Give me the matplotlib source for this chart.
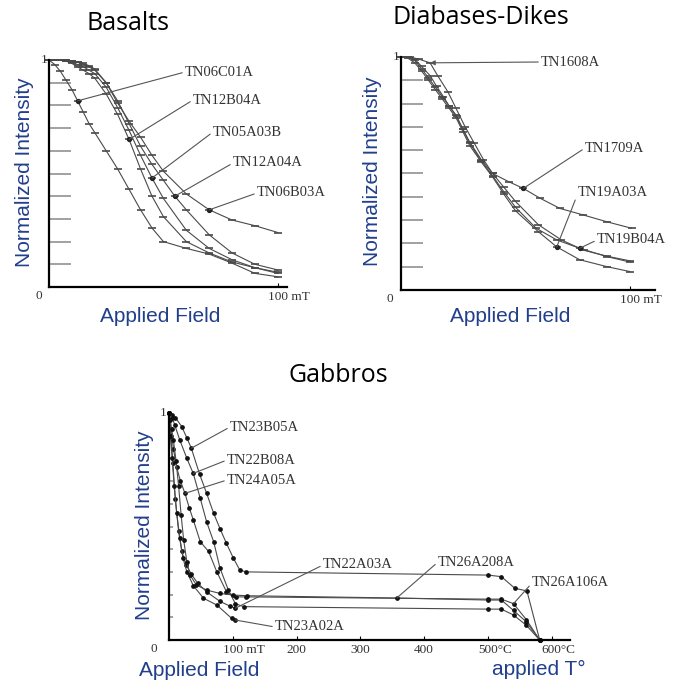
import matplotlib
matplotlib.use("Agg")
import matplotlib.pyplot as plt

W, H = 673, 687

# ---- Basalts (AF demagnetisation, mT) ----
bas_x = {
    "TN06C01A": [0, 2.5, 5, 7.5, 10, 12.5, 15, 17.5, 20, 25, 30, 35, 40, 45, 50, 60, 70, 80, 90, 100],
    "TN12B04A": [0, 2.5, 5, 7.5, 10, 12.5, 15, 17.5, 20, 25, 30, 35, 40, 45, 50, 60, 70, 80, 90, 100],
    "TN05A03B": [0, 2.5, 5, 7.5, 10, 12.5, 15, 17.5, 20, 25, 30, 35, 40, 45, 50, 60, 70, 80, 90, 100],
    "TN12A04A": [0, 2.5, 5, 7.5, 10, 12.5, 15, 17.5, 20, 25, 30, 35, 40, 45, 50, 55, 60, 70, 80, 90, 100],
    "TN06B03A": [0, 2.5, 5, 7.5, 10, 12.5, 15, 17.5, 20, 25, 30, 35, 40, 45, 50, 60, 70, 80, 90, 100],
}
bas_y = {
    "TN06C01A": [1, 0.98, 0.95, 0.91, 0.87, 0.82, 0.77, 0.72, 0.68, 0.60, 0.52, 0.43, 0.34, 0.26, 0.20, 0.17, 0.145, 0.105, 0.06, 0.045],
    "TN12B04A": [1, 1, 1, 0.995, 0.985, 0.97, 0.955, 0.94, 0.92, 0.85, 0.76, 0.65, 0.52, 0.40, 0.31, 0.20, 0.15, 0.11, 0.085, 0.065],
    "TN05A03B": [1, 1, 1, 0.995, 0.99, 0.98, 0.97, 0.955, 0.94, 0.88, 0.79, 0.69, 0.58, 0.48, 0.39, 0.25, 0.17, 0.12, 0.085, 0.06],
    "TN12A04A": [1, 1, 1, 1, 0.995, 0.99, 0.98, 0.97, 0.955, 0.90, 0.82, 0.72, 0.62, 0.54, 0.47, 0.40, 0.34, 0.23, 0.15, 0.10, 0.075],
    "TN06B03A": [1, 1, 1, 1, 0.995, 0.99, 0.985, 0.975, 0.96, 0.90, 0.81, 0.73, 0.66, 0.58, 0.51, 0.41, 0.34, 0.295, 0.27, 0.24],
}
# label -> (series, point index, label left/centre in px)
bas_notes = [
    ("TN06C01A", "TN06C01A", 5, (185, 72)),
    ("TN12B04A", "TN12B04A", 11, (193, 100)),
    ("TN05A03B", "TN05A03B", 13, (213, 132)),
    ("TN12A04A", "TN12A04A", 15, (233, 163)),
    ("TN06B03A", "TN06B03A", 16, (257, 193)),
]

# ---- Diabases-Dikes ----
dia_x = {
    "TN1608A": [0, 4, 8, 12.7, 16, 20.5, 24, 28, 32, 36, 40, 45, 50, 60, 70, 80, 90, 100],
    "TN1709A": [0, 3, 6, 9, 12.7, 15.5, 18.5, 21, 24.3, 27, 30, 35, 40, 47, 53.4, 60.7, 69.4, 79.6, 89.8, 100.7],
    "TN19A03A": [0, 3, 6, 9, 12, 15, 18, 21, 24, 27, 30, 35, 40, 45, 50, 60, 68, 78, 90, 100],
    "TN19B04A": [0, 3, 6, 9, 12, 15, 18, 21, 24, 27, 30, 35, 40, 45, 50, 59, 68, 78, 90, 100],
}
dia_y = {
    "TN1608A": [1, 1, 0.99, 0.975, 0.92, 0.85, 0.78, 0.70, 0.63, 0.56, 0.50, 0.44, 0.38, 0.28, 0.215, 0.17, 0.145, 0.125],
    "TN1709A": [1, 1, 0.99, 0.96, 0.92, 0.875, 0.83, 0.79, 0.745, 0.69, 0.635, 0.56, 0.50, 0.465, 0.436, 0.394, 0.35, 0.322, 0.293, 0.265],
    "TN19A03A": [1, 0.995, 0.975, 0.94, 0.90, 0.86, 0.82, 0.78, 0.74, 0.68, 0.62, 0.55, 0.485, 0.41, 0.34, 0.25, 0.185, 0.13, 0.10, 0.079],
    "TN19B04A": [1, 1, 0.985, 0.95, 0.91, 0.87, 0.83, 0.79, 0.75, 0.69, 0.63, 0.555, 0.49, 0.42, 0.355, 0.265, 0.215, 0.179, 0.143, 0.12],
}
dia_notes = [
    ("TN1608A", "TN1608A", 3, (541, 62)),
    ("TN1709A", "TN1709A", 14, (585, 148)),
    ("TN19A03A", "TN19A03A", 16, (578, 193)),
    ("TN19B04A", "TN19B04A", 17, (597, 240)),
]

# ---- Gabbros (AF up to ~120 mT, then thermal 500-600 C) ----
gab_x = {
    "TN23B05A": [0, 5, 10, 20, 28, 35, 48, 59, 70, 80, 90, 101, 111, 121, 500, 521, 542, 561, 581],
    "TN22B08A": [0, 5, 9, 17, 28, 38, 49, 59, 70, 80, 93, 104, 117, 500, 521, 540, 560, 581],
    "TN24A05A": [0, 3, 7, 12, 18, 25, 32, 38, 49, 62, 75, 90, 105, 120, 500, 521, 540, 560, 581],
    "TN22A03A": [0, 3, 6, 10, 15, 20, 27, 35, 45, 60, 80, 95, 104],
    "TN23A02A": [0, 2, 5, 8, 12, 17, 22, 28, 38, 54, 75, 98, 104],
    "TN26A208A": [0, 2, 4, 7, 11, 15, 19, 23, 28, 33, 43, 59, 80, 101, 122, 357, 500, 521, 540, 560, 581],
}
gab_y = {
    "TN23B05A": [1, 0.99, 0.98, 0.94, 0.89, 0.845, 0.73, 0.646, 0.558, 0.49, 0.426, 0.36, 0.308, 0.30, 0.286, 0.279, 0.228, 0.216, 0.0],
    "TN22B08A": [1, 0.98, 0.947, 0.88, 0.80, 0.734, 0.624, 0.52, 0.433, 0.316, 0.22, 0.16, 0.147, 0.136, 0.136, 0.11, 0.065, 0.0],
    "TN24A05A": [1, 0.93, 0.84, 0.76, 0.70, 0.646, 0.58, 0.53, 0.433, 0.39, 0.30, 0.213, 0.19, 0.19, 0.18, 0.18, 0.16, 0.09, 0.0],
    "TN22A03A": [1, 0.9, 0.78, 0.62, 0.48, 0.39, 0.33, 0.29, 0.25, 0.21, 0.17, 0.15, 0.14],
    "TN23A02A": [1, 0.9, 0.8, 0.68, 0.56, 0.45, 0.36, 0.30, 0.24, 0.184, 0.154, 0.096, 0.088],
    "TN26A208A": [1, 0.97, 0.93, 0.88, 0.79, 0.68, 0.55, 0.44, 0.345, 0.286, 0.242, 0.22, 0.205, 0.198, 0.195, 0.185, 0.176, 0.176, 0.13, 0.08, 0.0],
}
gab_notes = [
    ("TN23B05A", "TN23B05A", 5, (230, 427)),
    ("TN22B08A", "TN22B08A", 5, (227, 460)),
    ("TN24A05A", "TN24A05A", 5, (227, 480)),
    ("TN22A03A", "TN22A03A", 12, (323, 565)),
    ("TN23A02A", "TN23A02A", 12, (275, 627)),
    ("TN26A208A", "TN26A208A", 15, (438, 562)),
    ("TN26A106A", "TN24A05A", 16, (532, 583)),
]
gab_ticks = [100, 200, 300, 400, 500, 600]
gab_ticklabels = ["100 mT", "200", "300", "400", "500\u00b0C", "600\u00b0C"]

LINE = "#4a4a4a"
LABEL_BLUE = "#223f8c"
SERIF = "Liberation Serif"
SANS = "Liberation Sans"

fig = plt.figure(figsize=(W / 100, H / 100), dpi=100)


def px_axes(x0, y0, x1, y1):
    return fig.add_axes([x0 / W, 1 - y1 / H, (x1 - x0) / W, (y1 - y0) / H])


def fpos(p):
    return (p[0] / W, 1 - p[1] / H)


def frame(ax, xmax, long_ticks):
    ax.set_xlim(0, xmax)
    ax.set_ylim(0, 1)
    for s in ["top", "right"]:
        ax.spines[s].set_visible(False)
    for s in ["left", "bottom"]:
        ax.spines[s].set_linewidth(1.6)
        ax.spines[s].set_color("black")
    ax.set_yticks([])
    ax.set_yticks([i / 10 for i in range(1, 10)], minor=True)
    ax.tick_params(axis="y", which="minor", direction="in",
                   length=16 if long_ticks else 3, width=1.3, color="#9a9a9a")
    ax.tick_params(axis="x", which="major", direction="in", length=3, width=0.8,
                   labelbottom=False)
    ax.patch.set_alpha(0)
    ax.text(-0.03, -0.015, "0", transform=ax.transAxes, ha="right", va="top",
            family=SERIF, fontsize=9.5, color="#333333")
    ax.text(-0.005, 1.0, "1", transform=ax.transAxes, ha="right", va="center",
            family=SERIF, fontsize=9.5, color="#333333")


def xlabels(ax, ticks, labels):
    ax.set_xticks(ticks)
    for t, lab in zip(ticks, labels):
        n = len(lab.split(" ")[0].replace("\u00b0C", ""))
        ax.annotate(lab, xy=(t, 0), xycoords=("data", "axes fraction"),
                    xytext=(-2.4 * n, -3), textcoords="offset points",
                    ha="left", va="top", family=SERIF, fontsize=9.5, color="#333333")


def notes(ax, xs, ys, items, arrow_first=False):
    for i, (lab, key, k, pos) in enumerate(items):
        style = "-|>" if (arrow_first and i == 0) else "-"
        ax.annotate(lab, xy=(xs[key][k], ys[key][k]), xycoords="data",
                    xytext=fpos(pos), textcoords="figure fraction",
                    ha="left", va="center", family=SERIF, fontsize=10.5,
                    color="#333333", annotation_clip=False,
                    arrowprops=dict(arrowstyle=style, color="#555555", lw=0.8,
                                    shrinkA=0, shrinkB=0, relpos=(0, 0.5),
                                    mutation_scale=7))


# Basalts
ax1 = px_axes(49, 60, 287, 287)
frame(ax1, 104, True)
for key in bas_x:
    ax1.plot(bas_x[key], bas_y[key], color=LINE, lw=0.8, marker="_", ms=6,
             mew=1.2, clip_on=False)
for lab, key, k, pos in bas_notes:
    ax1.plot(bas_x[key][k], bas_y[key][k], "o", color="#222222", ms=2.8)
xlabels(ax1, [100], ["100 mT"])
notes(ax1, bas_x, bas_y, bas_notes)

# Diabases-Dikes
ax2 = px_axes(401, 57, 655, 290)
frame(ax2, 110.9, True)
for key in dia_x:
    ax2.plot(dia_x[key], dia_y[key], color=LINE, lw=0.8, marker="_", ms=6,
             mew=1.2, clip_on=False)
for lab, key, k, pos in dia_notes[1:]:
    ax2.plot(dia_x[key][k], dia_y[key][k], "o", color="#222222", ms=2.8)
xlabels(ax2, [100], ["100 mT"])
notes(ax2, dia_x, dia_y, dia_notes, arrow_first=True)

# Gabbros
ax3 = px_axes(169, 413, 570, 640)
frame(ax3, 628.5, False)
for key in gab_x:
    ax3.plot(gab_x[key], gab_y[key], color=LINE, lw=0.8, marker="o", ms=2.4,
             mfc="#111111", mec="#111111", clip_on=False)
xlabels(ax3, gab_ticks, gab_ticklabels)
notes(ax3, gab_x, gab_y, gab_notes)

# titles and axis labels
fig.text(128 / W, 1 - 24 / H, "Basalts", ha="center", va="center",
         family="Open Sans", fontsize=18)
fig.text(481 / W, 1 - 17 / H, "Diabases-Dikes", ha="center", va="center",
         family="Open Sans", fontsize=18)
fig.text(338 / W, 1 - 375 / H, "Gabbros", ha="center", va="center",
         family="Open Sans", fontsize=18)

for x, y in [(25, 172), (373, 171), (144, 525)]:
    fig.text(x / W, 1 - y / H, "Normalized Intensity", rotation=90, ha="center",
             va="center", family=SANS, fontsize=15, color=LABEL_BLUE)
for x, y, s in [(160, 316, "Applied Field"), (510, 317, "Applied Field"),
                (199, 671, "Applied Field"), (539, 669, "applied T\u00b0")]:
    fig.text(x / W, 1 - y / H, s, ha="center", va="center", family=SANS,
             fontsize=15, color=LABEL_BLUE)

fig.savefig("out.png", dpi=100)
